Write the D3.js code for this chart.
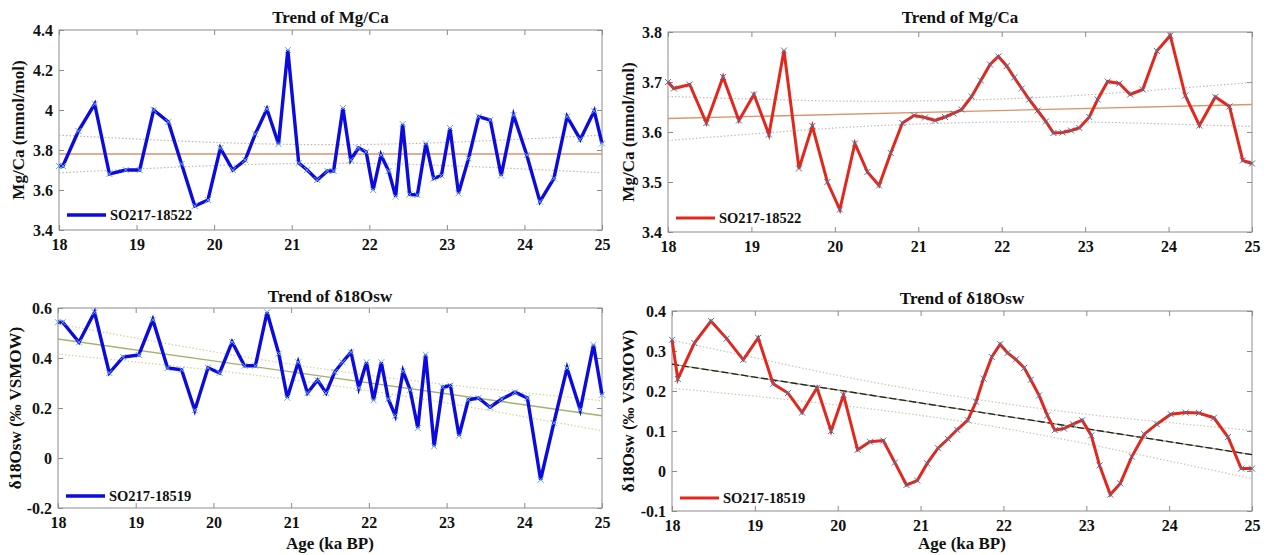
<!DOCTYPE html>
<html>
<head>
    <meta charset="utf-8">
    <script src="https://d3js.org/d3.v7.min.js"></script>
    <style>
        body { margin: 0; background: #fff; }
        text { font-family: "Liberation Serif", "Times New Roman", serif; font-weight: bold; fill: #111; }
    </style>
</head>
<body>
<script>
    // ages (ka BP) and values
    var ageTicks = [18, 19, 20, 21, 22, 23, 24, 25];

    var tlAge = [18.00,18.05,18.25,18.46,18.65,18.86,19.04,19.22,19.41,19.58,19.75,19.92,20.08,20.24,20.40,20.53,20.68,20.83,20.95,21.09,21.20,21.33,21.46,21.54,21.66,21.76,21.86,21.96,22.05,22.15,22.25,22.34,22.43,22.52,22.62,22.73,22.83,22.93,23.04,23.15,23.28,23.41,23.56,23.70,23.86,24.03,24.20,24.38,24.55,24.72,24.90,25.00];
    var tlMgCa = [3.72,3.72,3.895,4.03,3.68,3.70,3.70,4.00,3.94,3.73,3.52,3.55,3.81,3.70,3.75,3.88,4.005,3.83,4.30,3.735,3.70,3.65,3.695,3.695,4.01,3.75,3.81,3.79,3.60,3.775,3.695,3.567,3.93,3.578,3.575,3.833,3.658,3.672,3.91,3.583,3.758,3.967,3.95,3.672,3.975,3.775,3.542,3.658,3.967,3.853,3.995,3.833];
    var tlTrend = [3.78, 3.78];
    var tlUpper = [3.874,3.855,3.838,3.828,3.828,3.838,3.855,3.874];
    var tlLower = [3.686,3.705,3.722,3.732,3.732,3.722,3.705,3.686];
    var tlYTicks = [3.4, 3.6, 3.8, 4, 4.2, 4.4];

    var trAge = [18.00,18.07,18.26,18.46,18.66,18.85,19.03,19.21,19.39,19.57,19.73,19.91,20.06,20.24,20.39,20.53,20.67,20.81,20.95,21.08,21.20,21.32,21.42,21.52,21.64,21.75,21.86,21.96,22.06,22.15,22.24,22.33,22.43,22.53,22.62,22.73,22.83,22.93,23.05,23.15,23.27,23.41,23.54,23.69,23.86,24.02,24.20,24.37,24.56,24.73,24.89,25.00];
    var trMgCa = [3.70,3.687,3.695,3.618,3.71,3.623,3.675,3.595,3.763,3.527,3.612,3.50,3.445,3.577,3.52,3.493,3.558,3.618,3.633,3.629,3.623,3.63,3.637,3.645,3.671,3.703,3.735,3.751,3.732,3.709,3.687,3.665,3.643,3.621,3.598,3.599,3.603,3.608,3.63,3.665,3.701,3.697,3.675,3.685,3.762,3.793,3.673,3.613,3.67,3.651,3.543,3.537];
    var trTrend = [3.627, 3.655];
    var trUpper = [3.671,3.666,3.662,3.662,3.666,3.674,3.686,3.699];
    var trLower = [3.583,3.596,3.608,3.616,3.620,3.620,3.616,3.611];
    var trYTicks = [3.4, 3.5, 3.6, 3.7, 3.8];

    var blAge = [18.00,18.06,18.27,18.47,18.66,18.84,19.04,19.22,19.41,19.59,19.76,19.93,20.08,20.24,20.40,20.54,20.69,20.84,20.95,21.09,21.21,21.34,21.45,21.56,21.66,21.77,21.87,21.97,22.06,22.16,22.25,22.34,22.44,22.53,22.63,22.73,22.84,22.95,23.05,23.16,23.28,23.41,23.56,23.71,23.88,24.04,24.21,24.38,24.55,24.72,24.89,25.00];
    var blD18O = [0.543,0.543,0.463,0.583,0.34,0.404,0.412,0.553,0.36,0.353,0.191,0.361,0.34,0.464,0.369,0.369,0.583,0.418,0.241,0.383,0.26,0.311,0.26,0.344,0.383,0.423,0.28,0.383,0.231,0.383,0.236,0.169,0.347,0.273,0.12,0.413,0.047,0.283,0.29,0.089,0.233,0.24,0.203,0.236,0.263,0.24,-0.087,0.14,0.36,0.193,0.453,0.253];
    var blTrend = [0.476, 0.169];
    var blUpper = [0.536,0.480,0.425,0.375,0.331,0.294,0.261,0.229];
    var blLower = [0.416,0.384,0.351,0.313,0.269,0.220,0.165,0.109];
    var blYTicks = [-0.2, 0, 0.2, 0.4, 0.6];

    var brAge = [18.00,18.07,18.27,18.47,18.66,18.86,19.04,19.22,19.40,19.57,19.75,19.92,20.07,20.24,20.39,20.55,20.69,20.83,20.96,21.08,21.21,21.33,21.44,21.57,21.67,21.76,21.86,21.96,22.05,22.15,22.25,22.33,22.43,22.53,22.62,22.73,22.84,22.95,23.06,23.16,23.29,23.41,23.55,23.70,23.85,24.02,24.20,24.36,24.54,24.71,24.87,25.00];
    var brD18O = [0.328,0.23,0.32,0.375,0.331,0.278,0.333,0.218,0.195,0.146,0.208,0.10,0.19,0.053,0.073,0.076,0.021,-0.035,-0.024,0.019,0.057,0.08,0.103,0.127,0.173,0.231,0.285,0.317,0.295,0.279,0.258,0.228,0.189,0.139,0.102,0.106,0.117,0.127,0.089,0.014,-0.059,-0.031,0.036,0.092,0.117,0.142,0.146,0.145,0.133,0.085,0.006,0.006];
    var brTrend = [0.267, 0.041];
    var brUpper = [0.327,0.283,0.239,0.201,0.169,0.142,0.121,0.101];
    var brLower = [0.207,0.187,0.165,0.139,0.107,0.068,0.025,-0.019];
    var brYTicks = [-0.1, 0, 0.1, 0.2, 0.3, 0.4];

    var width = 1267, height = 555;

    var svg = d3.select("body").append("svg")
        .attr("width", width)
        .attr("height", height);

    var panels = [
        {x0: 59, x1: 602, y0: 30, y1: 230, age: tlAge, val: tlMgCa, trend: tlTrend, upper: tlUpper, lower: tlLower,
         yDomain: [3.4, 4.4], yTicks: tlYTicks, title: "Trend of Mg/Ca", titleY: 23, yLabel: "Mg/Ca (mmol/mol)", yLabelX: 24,
         color: "#0b0be0", lw: 3.4, marker: "#6fa6dc", trendColor: "#d9956b", bandColor: "#c9b3aa", legend: "SO217-18522", legY: 215},
        {x0: 668, x1: 1252, y0: 32, y1: 232, age: trAge, val: trMgCa, trend: trTrend, upper: trUpper, lower: trLower,
         yDomain: [3.4, 3.8], yTicks: trYTicks, title: "Trend of Mg/Ca", titleY: 23, yLabel: "Mg/Ca (mmol/mol)", yLabelX: 634,
         color: "#e2271d", lw: 3, marker: "#54709c", trendColor: "#d9956b", bandColor: "#bdbdbd", legend: "SO217-18522", legY: 218},
        {x0: 58, x1: 602, y0: 308, y1: 508, age: blAge, val: blD18O, trend: blTrend, upper: blUpper, lower: blLower,
         yDomain: [-0.2, 0.6], yTicks: blYTicks, title: "Trend of δ18Osw", titleY: 302, yLabel: "δ18Osw (‰ VSMOW)", yLabelX: 21,
         color: "#0b0be0", lw: 3.4, marker: "#6fa6dc", trendColor: "#a2b36a", bandColor: "#d4d19a", legend: "SO217-18519", legY: 496, xLabel: true},
        {x0: 672, x1: 1252, y0: 311, y1: 511, age: brAge, val: brD18O, trend: brTrend, upper: brUpper, lower: brLower,
         yDomain: [-0.1, 0.4], yTicks: brYTicks, title: "Trend of δ18Osw", titleY: 304, yLabel: "δ18Osw (‰ VSMOW)", yLabelX: 634,
         color: "#e2271d", lw: 3, marker: "#54709c", trendColor: "#222", trendDash: "7,3", bandColor: "#c3cbae", legend: "SO217-18519", legY: 498, xLabel: true}
    ];

    panels.forEach(drawPanel);

    function drawPanel(p) {
        var x = d3.scaleLinear().domain([18, 25]).range([p.x0, p.x1]);
        var y = d3.scaleLinear().domain(p.yDomain).range([p.y1, p.y0]);
        var g = svg.append("g");

        // box
        g.append("rect")
            .attr("x", p.x0).attr("y", p.y0)
            .attr("width", p.x1 - p.x0).attr("height", p.y1 - p.y0)
            .attr("fill", "none").attr("stroke", "#8c8c8c").attr("stroke-width", 1);

        // axes, ticks pointing inward like matlab
        var fmt = function(d) { return String(d); };
        var ax = g.append("g").attr("transform", "translate(0," + p.y1 + ")")
            .call(d3.axisBottom(x).tickValues(ageTicks).tickFormat(fmt).tickSizeInner(-5).tickSizeOuter(0).tickPadding(9));
        g.append("g").attr("transform", "translate(0," + p.y0 + ")")
            .call(d3.axisTop(x).tickValues(ageTicks).tickFormat("").tickSizeInner(-5).tickSizeOuter(0));
        var ay = g.append("g").attr("transform", "translate(" + p.x0 + ",0)")
            .call(d3.axisLeft(y).tickValues(p.yTicks).tickFormat(fmt).tickSizeInner(-5).tickSizeOuter(0).tickPadding(6));
        g.append("g").attr("transform", "translate(" + p.x1 + ",0)")
            .call(d3.axisRight(y).tickValues(p.yTicks).tickFormat("").tickSizeInner(-5).tickSizeOuter(0));

        g.selectAll(".domain").remove();
        g.selectAll(".tick line").attr("stroke", "#8c8c8c");
        g.selectAll(".tick text").style("font-size", "16px").attr("fill", "#111");

        // confidence band (dotted) and trend line
        var band = d3.line().x(function(d, i) { return x(ageTicks[i]); }).y(function(d) { return y(d); }).curve(d3.curveNatural);
        [p.upper, p.lower].forEach(function(b) {
            g.append("path").attr("d", band(b))
                .attr("fill", "none").attr("stroke", p.bandColor)
                .attr("stroke-width", 1.2).attr("stroke-dasharray", "1.5,2");
        });
        if (p.trendDash) {
            g.append("line")
                .attr("x1", x(18)).attr("y1", y(p.trend[0])).attr("x2", x(25)).attr("y2", y(p.trend[1]))
                .attr("stroke", "#9aa37c").attr("stroke-width", 1.3);
        }
        g.append("line")
            .attr("x1", x(18)).attr("y1", y(p.trend[0])).attr("x2", x(25)).attr("y2", y(p.trend[1]))
            .attr("stroke", p.trendColor).attr("stroke-width", 1.3)
            .attr("stroke-dasharray", p.trendDash || null);

        // data line
        var pts = p.age.map(function(a, i) { return [a, p.val[i]]; });
        g.append("path")
            .attr("d", d3.line().x(function(d) { return x(d[0]); }).y(function(d) { return y(d[1]); })(pts))
            .attr("fill", "none").attr("stroke", p.color)
            .attr("stroke-width", p.lw).attr("stroke-linejoin", "miter");

        // x markers
        g.append("g").selectAll("path")
            .data(pts)
            .enter().append("path")
            .attr("d", function(d) {
                var cx = x(d[0]), cy = y(d[1]), s = 3;
                return "M" + (cx - s) + "," + (cy - s) + "L" + (cx + s) + "," + (cy + s) +
                       "M" + (cx - s) + "," + (cy + s) + "L" + (cx + s) + "," + (cy - s);
            })
            .attr("stroke", p.marker).attr("stroke-width", 1);

        // legend
        g.append("line")
            .attr("x1", p.x0 + 8).attr("x2", p.x0 + 47)
            .attr("y1", p.legY).attr("y2", p.legY)
            .attr("stroke", p.color).attr("stroke-width", p.lw);
        g.append("text")
            .attr("x", p.x0 + 51).attr("y", p.legY + 5)
            .style("font-size", "14.5px")
            .text(p.legend);

        // title and labels
        var cx = (p.x0 + p.x1) / 2, cy = (p.y0 + p.y1) / 2;
        g.append("text")
            .attr("x", cx).attr("y", p.titleY)
            .attr("text-anchor", "middle")
            .style("font-size", "17px")
            .text(p.title);
        g.append("text")
            .attr("transform", "translate(" + p.yLabelX + "," + cy + ") rotate(-90)")
            .attr("text-anchor", "middle")
            .style("font-size", "17px")
            .text(p.yLabel);
        if (p.xLabel) {
            g.append("text")
                .attr("x", cx).attr("y", 549)
                .attr("text-anchor", "middle")
                .style("font-size", "17px")
                .text("Age (ka BP)");
        }
    }
</script>
</body>
</html>
